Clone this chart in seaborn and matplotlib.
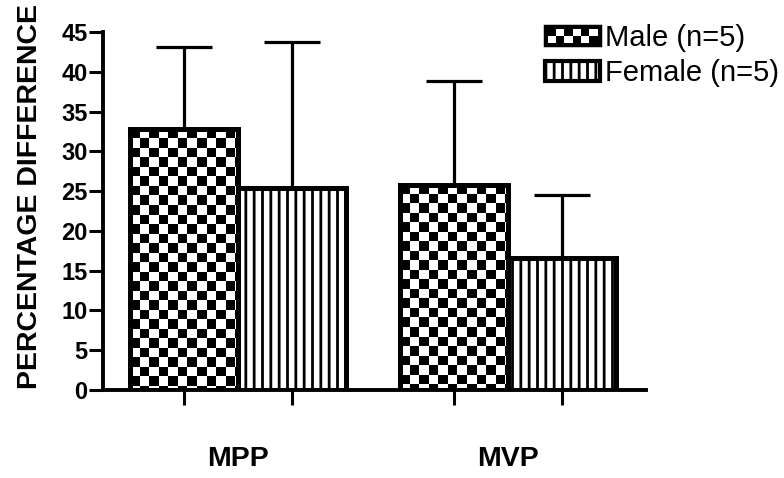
import numpy as np
import pandas as pd
import matplotlib
matplotlib.use("Agg")
import matplotlib.pyplot as plt
import seaborn as sns
from matplotlib.patches import Rectangle
from matplotlib.legend_handler import HandlerBase

# ---- data ----
categories = ["MPP", "MVP"]
groups = ["Male (n=5)", "Female (n=5)"]
male_mean = [32.8, 25.8]
female_mean = [25.4, 16.6]
male_sd = [10.3, 13.0]
female_sd = [18.3, 7.9]
yticks = [0, 5, 10, 15, 20, 25, 30, 35, 40, 45]

df = pd.DataFrame({
    "cat": categories * 2,
    "group": [groups[0]] * 2 + [groups[1]] * 2,
    "val": male_mean + female_mean,
    "sd": male_sd + female_sd,
})

sns.set_theme(style="white")
plt.rcParams["font.family"] = ["Liberation Sans", "DejaVu Sans"]
plt.rcParams["hatch.linewidth"] = 2.0
plt.rcParams["hatch.color"] = "black"
plt.rcParams["text.color"] = "black"
plt.rcParams["axes.labelcolor"] = "black"
plt.rcParams["xtick.color"] = "black"
plt.rcParams["ytick.color"] = "black"

fig = plt.figure(figsize=(7.84, 4.78), dpi=100)
ax = fig.add_axes([103 / 784, 1 - 390 / 478, (646 - 103) / 784, (390 - 32) / 478])

sns.barplot(data=df, x="cat", y="val", hue="group", order=categories,
            hue_order=groups, errorbar=None, width=0.8, ax=ax,
            palette=["white", "white"], edgecolor="black", linewidth=3.6,
            legend=False)

ax.set_xlim(-0.5, 1.51)
ax.set_ylim(0, 45)
fig.canvas.draw()

bars = [p for p in ax.patches if isinstance(p, Rectangle) and p.get_height() > 0]
bars = sorted(bars, key=lambda p: p.get_x())
male_bars = [bars[0], bars[2]]
female_bars = [bars[1], bars[3]]

sq = 9.5  # checker square size in pixels
for p in male_bars:
    p.set_facecolor((1, 1, 1, 0))
    p.set_zorder(3)
    x0, w, h = p.get_x(), p.get_width(), p.get_height()
    (px0, py0), (px1, py1) = ax.transData.transform([(x0, 0), (x0 + w, h)])
    nc = int(np.ceil((px1 - px0) / sq))
    nr = int(np.ceil((py1 - py0) / sq))
    jj, ii = np.meshgrid(np.arange(nc), np.arange(nr))
    pattern = ((ii + jj) % 2).astype(float)
    x1d = ax.transData.inverted().transform((px0 + nc * sq, py1))[0]
    y0d = ax.transData.inverted().transform((px0, py1 - nr * sq))[1]
    im = ax.imshow(pattern, cmap="gray", vmin=0, vmax=1, origin="upper",
                   extent=(x0, x1d, y0d, h), interpolation="nearest",
                   aspect="auto", zorder=2)
    im.set_clip_path(p)

for p in female_bars:
    p.set_facecolor("white")
    p.set_hatch("||")
    p.set_zorder(3)

ax.set_xlim(-0.5, 1.51)
ax.set_ylim(0, 45)

# error bars (upper only)
centers = [p.get_x() + p.get_width() / 2 for p in bars]
tops = [p.get_height() for p in bars]
sds = [male_sd[0], female_sd[0], male_sd[1], female_sd[1]]
ax.errorbar(centers, tops, yerr=[np.zeros(4), sds], fmt="none",
            ecolor="black", elinewidth=2.3, capsize=20.5, capthick=2.3,
            zorder=2.5)

# axes styling
for s in ["top", "right"]:
    ax.spines[s].set_visible(False)
for s in ["left", "bottom"]:
    ax.spines[s].set_linewidth(2.8)
    ax.spines[s].set_color("black")
    ax.spines[s].set_zorder(4)

ax.set_yticks(yticks)
ax.set_yticklabels([str(t) for t in yticks], fontsize=17, fontweight="bold")
ax.tick_params(axis="y", direction="out", length=10, width=2.2, pad=1,
               left=True, color="black", labelcolor="black")

ax.set_xticks([0, 1])
ax.set_xticklabels(categories, fontsize=20.5, fontweight="bold")
ax.tick_params(axis="x", which="major", length=0, pad=40, labelcolor="black")
ax.set_xticks(centers, minor=True)
ax.tick_params(axis="x", which="minor", direction="out", length=10.5,
               width=2.2, bottom=True, color="black")
ax.set_xlabel("")

ax.set_ylabel("PERCENTAGE DIFFERENCE", fontsize=20.5, fontweight="bold",
              color="black")
ax.yaxis.set_label_coords(-0.11, 0.54)


class CheckerHandler(HandlerBase):
    def create_artists(self, legend, orig_handle, xdescent, ydescent,
                       width, height, fontsize, trans):
        arts = []
        base = Rectangle((-xdescent, -ydescent), width, height,
                         facecolor="black", edgecolor="black", lw=2.5,
                         transform=trans)
        arts.append(base)
        ncol = 6
        cw = (width - 4) / ncol
        ch = (height - 4) / 2
        for c in range(ncol):
            for r in range(2):
                if (c + r) % 2 == 0:
                    arts.append(Rectangle((-xdescent + 2 + c * cw,
                                           -ydescent + 2 + r * ch), cw, ch,
                                          facecolor="white", edgecolor="none",
                                          transform=trans))
        return arts


h_male = Rectangle((0, 0), 1, 1, facecolor="black", edgecolor="black")
h_female = Rectangle((0, 0), 1, 1, facecolor="white", edgecolor="black",
                     hatch="||", lw=3)
fig.legend([h_male, h_female], groups, loc="upper left",
           bbox_to_anchor=(545 / 784, 1 - 24 / 478), frameon=False,
           fontsize=21, handlelength=1.9, handleheight=0.65,
           handletextpad=0.15, labelspacing=0.25, borderpad=0,
           borderaxespad=0, labelcolor="black",
           handler_map={h_male: CheckerHandler()})

fig.savefig("out.png", dpi=100)
